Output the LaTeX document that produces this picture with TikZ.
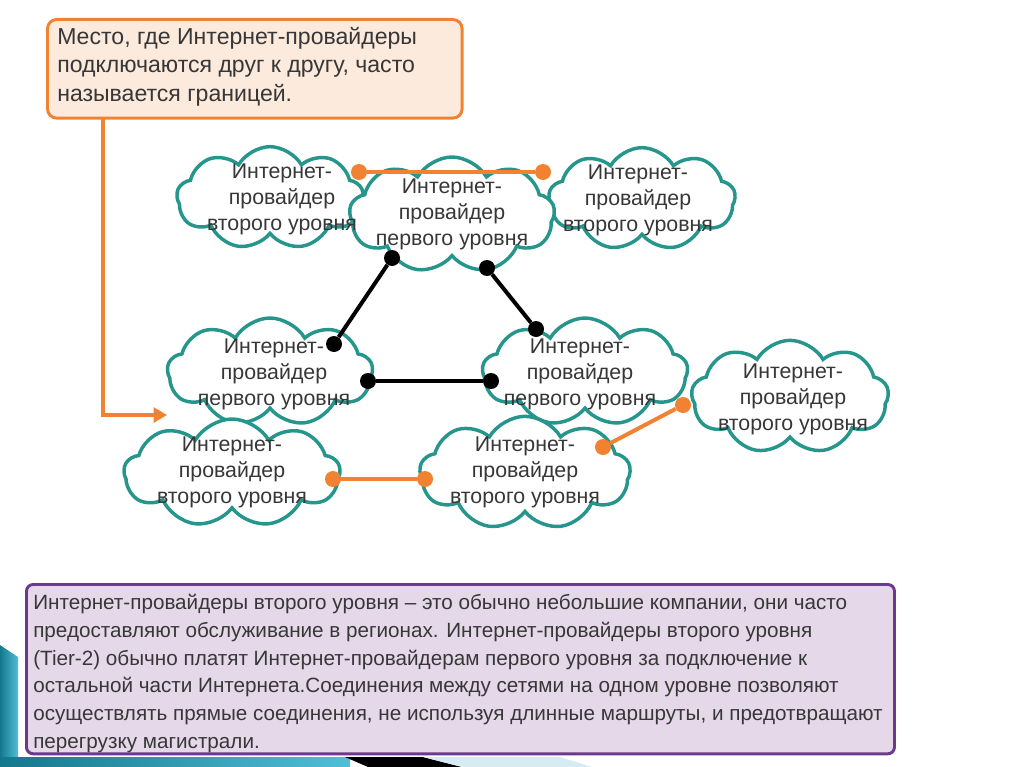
\documentclass[tikz,border=0pt]{standalone}
\usepackage{fontspec}
\setmainfont{Liberation Sans}
\usetikzlibrary{shapes.symbols,arrows.meta}
\definecolor{cloudc}{RGB}{38,150,140}
\definecolor{orangec}{RGB}{240,130,50}
\definecolor{callfill}{RGB}{252,234,220}
\definecolor{purplec}{RGB}{108,58,140}
\definecolor{purfill}{RGB}{228,216,233}
\definecolor{txtc}{RGB}{55,55,55}
\definecolor{decteal}{RGB}{20,120,140}
\definecolor{declight}{RGB}{80,190,215}
\definecolor{decpale}{RGB}{215,235,242}
\tikzset{
  isp/.style={cloud, cloud puffs=9, cloud puff arc=120, draw=cloudc, line width=2.6pt, fill=white, inner sep=0pt},
  isptext/.style={align=center, text=txtc, font=\fontsize{16}{19.5}\selectfont, inner sep=0pt},
  odot/.style={circle, fill=orangec, minimum size=12pt, inner sep=0pt},
  bdot/.style={circle, fill=black, minimum size=12pt, inner sep=0pt},
  olink/.style={draw=orangec, line width=3pt},
  blink/.style={draw=black, line width=3pt},
}
\begin{document}
\begin{tikzpicture}[x=0.75pt,y=-0.75pt]
\useasboundingbox (0,0) rectangle (1024,767);
% decoration
\shade[left color=decteal, right color=declight] (0,645) -- (18,657) -- (18,767) -- (0,767) -- cycle;
\shade[left color=decteal, right color=declight] (0,757) rectangle (350,767);
\fill[black] (345,757) -- (423,757) -- (462,767) -- (368,767) -- cycle;
\fill[decpale] (423,757) -- (560,757) -- (592,767) -- (462,767) -- cycle;

% callout
\node[draw=orangec, fill=callfill, line width=2.2pt, rounded corners=7pt, minimum width=311pt, minimum height=74pt, anchor=north west] (callout) at (46,18) {};
\node[anchor=north west, align=left, text=txtc, font=\fontsize{17.3}{21.4}\selectfont, inner sep=0pt] (calltext) at (57,27) {Место, где Интернет-провайдеры\\подключаются друг к другу, часто\\называется границей.};
\coordinate (arrstart) at (103,117);
\coordinate (arrend) at (167,415);
\draw[orangec, line width=3pt, -{Triangle[length=10pt,width=11pt]}] (arrstart) |- (arrend);

% clouds
\node[isp, minimum width=140pt, minimum height=77pt] (c1) at (270,198) {};
\node[isp, minimum width=140pt, minimum height=77pt] (c3) at (642,199) {};
\node[isp, minimum width=154pt, minimum height=87pt] (c2) at (452,215) {};
\node[isp, minimum width=154pt, minimum height=81pt] (c4) at (270,372) {};
\node[isp, minimum width=148pt, minimum height=85pt] (c6) at (790,397) {};
\node[isp, minimum width=154pt, minimum height=81pt] (c5) at (585,372) {};
\node[isp, minimum width=162pt, minimum height=81pt] (c7) at (232,473) {};
\node[isp, minimum width=158pt, minimum height=85pt] (c8) at (525,473) {};

\node[isptext] (t1) at (282,199) {Интернет-\\провайдер\\второго уровня};
\node[isptext] (t2) at (452,214) {Интернет-\\провайдер\\первого уровня};
\node[isptext] (t3) at (638,200) {Интернет-\\провайдер\\второго уровня};
\node[isptext] (t4) at (274,374) {Интернет-\\провайдер\\первого уровня};
\node[isptext] (t5) at (580,374) {Интернет-\\провайдер\\первого уровня};
\node[isptext] (t6) at (793,399) {Интернет-\\провайдер\\второго уровня};
\node[isptext] (t7) at (232,472) {Интернет-\\провайдер\\второго уровня};
\node[isptext] (t8) at (525,472) {Интернет-\\провайдер\\второго уровня};

% dots
\node[odot] (o1) at (359,172) {};
\node[odot] (o2) at (543,172) {};
\node[odot] (o3) at (333,479) {};
\node[odot] (o4) at (425,479) {};
\node[odot] (o5) at (603,447) {};
\node[odot] (o6) at (683,405) {};
\node[bdot] (b1) at (392,258) {};
\node[bdot] (b2) at (334,344) {};
\node[bdot] (b3) at (487,268) {};
\node[bdot] (b4) at (536,329) {};
\node[bdot] (b5) at (368,381) {};
\node[bdot] (b6) at (491,381) {};

\draw[olink] (o1) -- (o2);
\draw[olink] (o3) -- (o4);
\draw[olink] (o5) -- (o6);
\draw[blink] (b1) -- (b2);
\draw[blink] (b3) -- (b4);
\draw[blink] (b5) -- (b6);

% bottom box
\node[draw=purplec, fill=purfill, line width=2.2pt, rounded corners=5pt, minimum width=651pt, minimum height=127pt, anchor=north west] (infobox) at (25,583) {};
\node[anchor=north west, align=left, text=txtc, font=\fontsize{15.5}{20.8}\selectfont, inner sep=0pt] (infotext) at (33,594) {Интернет-провайдеры второго уровня -- это обычно небольшие компании, они часто\\предоставляют обслуживание в регионах. Интернет-провайдеры второго уровня\\(Tier-2) обычно платят Интернет-провайдерам первого уровня за подключение к\\остальной части Интернета.Соединения между сетями на одном уровне позволяют\\осуществлять прямые соединения, не используя длинные маршруты, и предотвращают\\перегрузку магистрали.};
\end{tikzpicture}
\end{document}
